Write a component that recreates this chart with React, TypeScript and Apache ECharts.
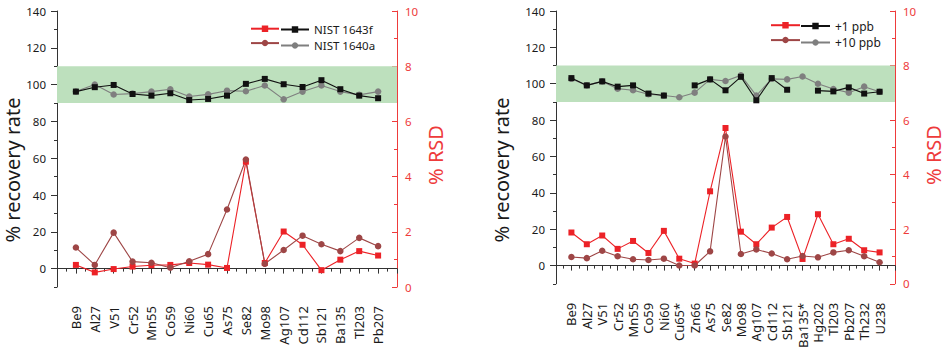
import React, { useEffect, useRef } from 'react';
import * as echarts from 'echarts';

const catsA = ['Be9', 'Al27', 'V51', 'Cr52', 'Mn55', 'Co59', 'Ni60', 'Cu65', 'As75', 'Se82', 'Mo98', 'Ag107', 'Cd112', 'Sb121', 'Ba135', 'Tl203', 'Pb207'];
const rec1643f = [96.2, 98.6, 99.8, 94.9, 94.0, 95.3, 91.6, 92.2, 94.0, 100.4, 103.1, 100.2, 98.7, 102.4, 97.5, 94.0, 92.6];
const rec1640a = [96.2, 100.0, 94.6, 95.1, 96.2, 97.5, 93.5, 94.7, 96.7, 96.4, 99.5, 92.0, 96.2, 99.5, 96.2, 94.4, 96.2];
const rsd1643f = [0.80, 0.53, 0.65, 0.74, 0.79, 0.80, 0.87, 0.81, 0.69, 4.54, 0.87, 2.01, 1.53, 0.61, 0.99, 1.30, 1.14];
const rsd1640a = [1.43, 0.80, 1.97, 0.92, 0.88, 0.70, 0.93, 1.19, 2.81, 4.62, 0.84, 1.34, 1.86, 1.55, 1.30, 1.78, 1.48];

const catsB = ['Be9', 'Al27', 'V51', 'Cr52', 'Mn55', 'Co59', 'Ni60', 'Cu65*', 'Zn66', 'As75', 'Se82', 'Mo98', 'Ag107', 'Cd112', 'Sb121', 'Ba135*', 'Hg202', 'Tl203', 'Pb207', 'Th232', 'U238'];
const rec1ppb = [103.1, 99.1, 101.3, 98.4, 99.1, 94.6, 93.5, null, 99.1, 102.4, 96.4, 103.8, 90.9, 103.1, 96.7, null, 96.2, 95.8, 98.0, 94.6, 95.6];
const rec10ppb = [102.7, 99.1, 101.3, 97.3, 96.4, 94.2, 93.5, 92.6, 95.1, 102.4, 101.5, 104.6, 93.5, 102.7, 102.4, 104.0, 100.0, 97.1, 95.1, 98.4, 95.6];
const rsd1ppb = [1.88, 1.45, 1.77, 1.28, 1.57, 1.13, 1.94, 0.92, 0.74, 3.39, 5.71, 1.91, 1.45, 2.06, 2.45, 0.91, 2.55, 1.45, 1.65, 1.23, 1.15];
const rsd10ppb = [0.98, 0.94, 1.21, 1.01, 0.90, 0.87, 0.92, 0.67, 0.67, 1.19, 5.40, 1.09, 1.26, 1.11, 0.90, 1.02, 0.97, 1.15, 1.23, 1.01, 0.79];

const recMajor = [0, 20, 40, 60, 80, 100, 120, 140];
const recMinor = [-10, 10, 30, 50, 70, 90, 110, 130];
const bandRange = [90, 110];

const FONT = 'Noto Sans';
const RED = '#ec2227';
const RED_AXIS = '#ee3b3b';
const BROWN = '#9e4646';
const GRAY = '#7f7f7f';
const BLACK = '#111111';
const GREEN = '#bde0bd';
const AXIS = '#333333';

const toPts = (vals: (number | null)[]) => vals.map((v, i) => [i + 1, v === null ? '-' : v]);

function xAxisFor(grid: number, cats: string[]) {
  return {
    type: 'value',
    gridIndex: grid,
    min: 0,
    max: cats.length + 1,
    interval: 1,
    axisLine: { lineStyle: { color: AXIS, width: 1 } },
    axisTick: { length: 5, lineStyle: { color: AXIS } },
    minorTick: { show: true, splitNumber: 2, length: 3, lineStyle: { color: AXIS } },
    splitLine: { show: false },
    axisLabel: {
      rotate: 90,
      margin: 19,
      fontFamily: FONT,
      fontSize: 13,
      color: '#1a1a1a',
      formatter: (v: number) => (v >= 1 && v <= cats.length ? cats[v - 1] : ''),
    },
  };
}

function yAxesFor(grid: number) {
  return [
    {
      type: 'value',
      gridIndex: grid,
      position: 'left',
      min: -10,
      max: 140,
      axisLine: { show: true, lineStyle: { color: AXIS } },
      axisTick: { show: true, length: 6, customValues: recMajor, lineStyle: { color: AXIS } },
      axisLabel: { customValues: recMajor, margin: 11, fontFamily: FONT, fontSize: 11.5, color: '#1a1a1a' },
      splitLine: { show: false },
    },
    {
      type: 'value',
      gridIndex: grid,
      position: 'left',
      min: -10,
      max: 140,
      axisLine: { show: false },
      axisTick: { show: true, length: 3, customValues: recMinor, lineStyle: { color: AXIS } },
      axisLabel: { show: false },
      splitLine: { show: false },
    },
    {
      type: 'value',
      gridIndex: grid,
      position: 'right',
      min: 0,
      max: 10,
      interval: 2,
      axisLine: { show: true, lineStyle: { color: RED_AXIS } },
      axisTick: { show: true, inside: true, length: 5, lineStyle: { color: RED_AXIS } },
      minorTick: { show: true, splitNumber: 2, length: 3, lineStyle: { color: RED_AXIS } },
      axisLabel: { margin: 8, fontFamily: FONT, fontSize: 11.5, color: RED_AXIS },
      splitLine: { show: false },
    },
  ];
}

function lineSeries(name: string, xi: number, yi: number, vals: (number | null)[], color: string, symbol: string, size: number, z: number) {
  return {
    type: 'line',
    name,
    xAxisIndex: xi,
    yAxisIndex: yi,
    data: toPts(vals),
    symbol,
    symbolSize: size,
    showAllSymbol: true,
    connectNulls: false,
    z,
    itemStyle: { color },
    lineStyle: { color, width: 1.1 },
  };
}

const band = {
  silent: true,
  itemStyle: { color: GREEN },
  data: [[{ yAxis: bandRange[0] }, { yAxis: bandRange[1] }]],
};

function buildOption() {
  const s0 = lineSeries('NIST 1643f RSD', 0, 2, rsd1643f, RED, 'rect', 6, 3);
  const s1 = lineSeries('NIST 1640a RSD', 0, 2, rsd1640a, BROWN, 'circle', 6.5, 3);
  const s2: any = lineSeries('NIST 1643f', 0, 0, rec1643f, BLACK, 'rect', 6, 4);
  const s3 = lineSeries('NIST 1640a', 0, 0, rec1640a, GRAY, 'circle', 6.5, 3);
  s2.markArea = band;
  const t0 = lineSeries('+1 ppb RSD', 1, 5, rsd1ppb, RED, 'rect', 6, 3);
  const t1 = lineSeries('+10 ppb RSD', 1, 5, rsd10ppb, BROWN, 'circle', 6.5, 3);
  const t2: any = lineSeries('+1 ppb', 1, 3, rec1ppb, BLACK, 'rect', 6, 4);
  const t3 = lineSeries('+10 ppb', 1, 3, rec10ppb, GRAY, 'circle', 6.5, 3);
  t2.markArea = band;

  const legendBase = {
    orient: 'vertical',
    padding: 0,
    itemWidth: 28,
    itemHeight: 8,
    selectedMode: false,
    textStyle: { fontFamily: FONT, fontSize: 12, color: '#1a1a1a', lineHeight: 14 },
  };
  const smallText = { fontFamily: FONT, fontSize: 11.5, color: '#1a1a1a', lineHeight: 14 };

  const nameText = (x: number, y: number, text: string, color: string) => ({
    type: 'text',
    x,
    y,
    rotation: Math.PI / 2,
    style: { text, fill: color, font: `20px "${FONT}"`, align: 'center', verticalAlign: 'middle' },
  });

  return {
    animation: false,
    backgroundColor: '#ffffff',
    grid: [
      { left: 57, top: 11, width: 340, height: 276, containLabel: false },
      { left: 556, top: 11, width: 339, height: 276, containLabel: false },
    ],
    xAxis: [xAxisFor(0, catsA), xAxisFor(1, catsB)],
    yAxis: [...yAxesFor(0), ...yAxesFor(1)],
    legend: [
      { ...legendBase, left: 250, top: 25.5, itemGap: 8, formatter: () => '', data: ['NIST 1643f RSD', 'NIST 1640a RSD'] },
      { ...legendBase, textStyle: smallText, left: 280, top: 22.5, itemGap: 2, data: ['NIST 1643f', 'NIST 1640a'] },
      { ...legendBase, left: 770, itemWidth: 29, top: 22, itemGap: 8.5, formatter: () => '', data: ['+1 ppb RSD', '+10 ppb RSD'] },
      { ...legendBase, left: 800, itemWidth: 29, top: 19, itemGap: 2.5, data: ['+1 ppb', '+10 ppb'] },
    ],
    graphic: [
      nameText(12, 170, '% recovery rate', '#1a1a1a'),
      nameText(435, 155, '% RSD', RED_AXIS),
      nameText(501, 170, '% recovery rate', '#1a1a1a'),
      nameText(933, 155, '% RSD', RED_AXIS),
    ],
    series: [s0, s1, s2, s3, t0, t1, t2, t3],
  };
}

export default function App() {
  const ref = useRef<HTMLDivElement>(null);
  useEffect(() => {
    document.body.style.margin = '0';
    const chart = echarts.init(ref.current as HTMLDivElement, null, { renderer: 'svg' });
    chart.setOption(buildOption() as any);
    return () => chart.dispose();
  }, []);
  return <div ref={ref} style={{ position: 'fixed', left: 0, top: 0, width: 950, height: 351 }} />;
}
